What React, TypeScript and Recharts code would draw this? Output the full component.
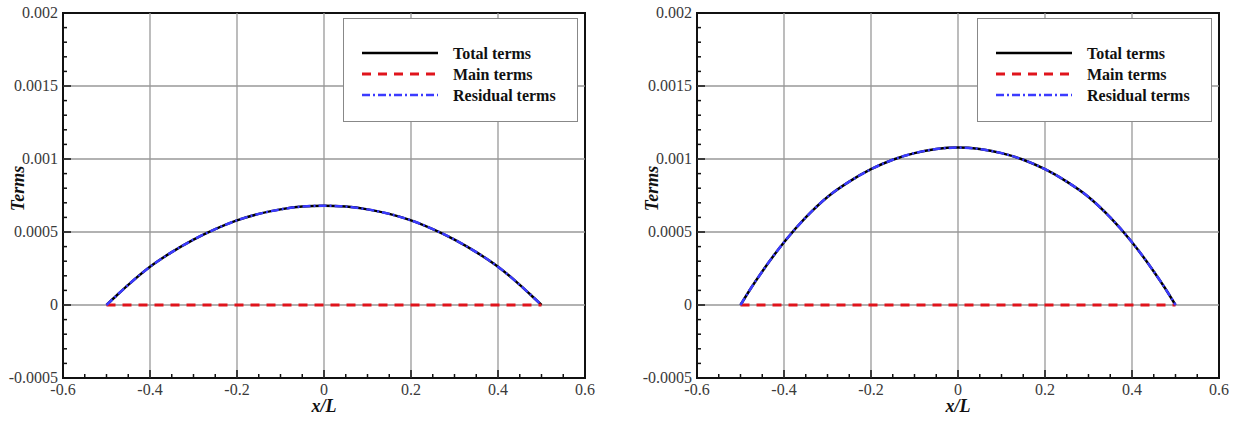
import {
  LineChart,
  Line,
  XAxis,
  YAxis,
  ReferenceLine,
  ReferenceArea,
  Legend,
} from 'recharts';

// x/L positions where the curves were read
const xPos = [
  -0.5, -0.475, -0.45, -0.4, -0.35, -0.3, -0.25, -0.2, -0.15, -0.1, -0.05, 0,
  0.05, 0.1, 0.15, 0.2, 0.25, 0.3, 0.35, 0.4, 0.45, 0.475, 0.5,
];

// left panel
const leftTotal = [
  0, 0.00007, 0.000138, 0.000262, 0.000362, 0.000448, 0.00052, 0.00058, 0.000624,
  0.000655, 0.000674, 0.00068, 0.000674, 0.000655, 0.000624, 0.00058, 0.00052,
  0.000448, 0.000362, 0.000262, 0.000138, 0.00007, 0,
];
const leftMain = [0, 0, 0, 0, 0, 0, 0, 0, 0, 0, 0, 0, 0, 0, 0, 0, 0, 0, 0, 0, 0, 0, 0];
const leftResidual = [
  0, 0.00007, 0.000138, 0.000262, 0.000362, 0.000448, 0.00052, 0.00058, 0.000624,
  0.000655, 0.000674, 0.00068, 0.000674, 0.000655, 0.000624, 0.00058, 0.00052,
  0.000448, 0.000362, 0.000262, 0.000138, 0.00007, 0,
];

// right panel
const rightTotal = [
  0, 0.00012, 0.00023, 0.00043, 0.0006, 0.00074, 0.000845, 0.00093, 0.000995,
  0.00104, 0.001068, 0.001078, 0.001068, 0.00104, 0.000995, 0.00093, 0.000845,
  0.00074, 0.0006, 0.00043, 0.00023, 0.00012, 0,
];
const rightMain = [0, 0, 0, 0, 0, 0, 0, 0, 0, 0, 0, 0, 0, 0, 0, 0, 0, 0, 0, 0, 0, 0, 0];
const rightResidual = [
  0, 0.00012, 0.00023, 0.00043, 0.0006, 0.00074, 0.000845, 0.00093, 0.000995,
  0.00104, 0.001068, 0.001078, 0.001068, 0.00104, 0.000995, 0.00093, 0.000845,
  0.00074, 0.0006, 0.00043, 0.00023, 0.00012, 0,
];

const xTicks = [
  -0.6, -0.55, -0.5, -0.45, -0.4, -0.35, -0.3, -0.25, -0.2, -0.15, -0.1, -0.05, 0,
  0.05, 0.1, 0.15, 0.2, 0.25, 0.3, 0.35, 0.4, 0.45, 0.5, 0.55, 0.6,
];
const xLabelTicks = [-0.6, -0.4, -0.2, 0, 0.2, 0.4, 0.6];
const yTicks = [
  -0.0005, -0.0004, -0.0003, -0.0002, -0.0001, 0, 0.0001, 0.0002, 0.0003, 0.0004,
  0.0005, 0.0006, 0.0007, 0.0008, 0.0009, 0.001, 0.0011, 0.0012, 0.0013, 0.0014,
  0.0015, 0.0016, 0.0017, 0.0018, 0.0019, 0.002,
];
const yLabelTicks = [-0.0005, 0, 0.0005, 0.001, 0.0015, 0.002];

const seriesNames = ['Total terms', 'Main terms', 'Residual terms'];

const FONT = 'Liberation Serif, Times New Roman, serif';
const isMajor = (v: number, list: number[]) => list.some((t) => Math.abs(t - v) < 1e-9);

function XTick({ x, y, payload }: any) {
  const major = isMajor(payload.value, xLabelTicks);
  return (
    <g>
      <line x1={x} x2={x} y1={y} y2={y - (major ? 8 : 4)} stroke="#111" strokeWidth={1.5} />
      {major && (
        <text x={x} y={y + 17} textAnchor="middle" fontSize={16} fill="#3a3a3a" fontFamily={FONT}>
          {payload.value}
        </text>
      )}
    </g>
  );
}

function YTick({ x, y, payload }: any) {
  const major = isMajor(payload.value, yLabelTicks);
  return (
    <g>
      <line x1={x} x2={x + (major ? 8 : 4)} y1={y} y2={y} stroke="#111" strokeWidth={1.5} />
      {major && (
        <text x={x - 5} y={y + 4.5} textAnchor="end" fontSize={16} fill="#3a3a3a" fontFamily={FONT}>
          {payload.value}
        </text>
      )}
    </g>
  );
}

const YLabel = ({ viewBox }: any) => {
  const cx = viewBox.x + 18;
  const cy = viewBox.y + viewBox.height / 2 - 7;
  return (
    <text
      x={cx}
      y={cy}
      transform={`rotate(-90 ${cx} ${cy})`}
      textAnchor="middle"
      dominantBaseline="central"
      fontSize={18}
      fontWeight="bold"
      fontStyle="italic"
      fontFamily={FONT}
      fill="#111"
    >
      Terms
    </text>
  );
};

const XLabel = ({ viewBox }: any) => (
  <text
    x={viewBox.x + viewBox.width / 2}
    y={viewBox.y + 34}
    textAnchor="middle"
    fontSize={18}
    fontWeight="bold"
    fontStyle="italic"
    fontFamily={FONT}
    fill="#111"
  >
    x/L
  </text>
);

function LegendBox() {
  const rows = [
    { stroke: '#000', dash: undefined, width: 2.5 },
    { stroke: '#e0141c', dash: '9 7', width: 3 },
    { stroke: '#3b3bff', dash: '8 3 2 3', width: 2.5 },
  ];
  return (
    <div
      style={{
        width: 235,
        height: 104,
        boxSizing: 'border-box',
        border: '1.5px solid #888',
        background: '#fff',
      }}
    >
      <svg width={232} height={101}>
        {rows.map((r, i) => (
          <g key={seriesNames[i]}>
            <line
              x1={18}
              x2={94}
              y1={34 + i * 21}
              y2={34 + i * 21}
              stroke={r.stroke}
              strokeWidth={r.width}
              strokeDasharray={r.dash}
            />
            <text
              x={109}
              y={39.5 + i * 21}
              fontSize={16}
              fontWeight="bold"
              fontFamily={FONT}
              fill="#111"
            >
              {seriesNames[i]}
            </text>
          </g>
        ))}
      </svg>
    </div>
  );
}

function Panel({ total, main, residual }: { total: number[]; main: number[]; residual: number[] }) {
  const data = xPos.map((x, i) => ({ x, total: total[i], main: main[i], residual: residual[i] }));
  return (
    <LineChart width={600} height={421} data={data} margin={{ top: 13, right: 15, left: 0, bottom: 0 }}>
      {xLabelTicks.slice(1, -1).map((v) => (
        <ReferenceLine key={'vx' + v} x={v} stroke="#999" strokeWidth={1.3} />
      ))}
      {yLabelTicks.slice(1, -1).map((v) => (
        <ReferenceLine key={'hy' + v} y={v} stroke="#999" strokeWidth={1.3} />
      ))}
      <XAxis
        type="number"
        dataKey="x"
        domain={[-0.6, 0.6]}
        ticks={xTicks}
        interval={0}
        tickSize={0}
        tickMargin={0}
        tickLine={false}
        axisLine={false}
        tick={<XTick />}
        height={43}
        allowDataOverflow
        label={XLabel}
      />
      <YAxis
        type="number"
        domain={[-0.0005, 0.002]}
        ticks={yTicks}
        interval={0}
        tickSize={0}
        tickMargin={0}
        tickLine={false}
        axisLine={false}
        tick={<YTick />}
        width={63}
        allowDataOverflow
        label={YLabel}
      />
      <ReferenceArea
        x1={-0.6}
        x2={0.6}
        y1={-0.0005}
        y2={0.002}
        fill="none"
        fillOpacity={0}
        stroke="#111"
        strokeWidth={2}
        ifOverflow="visible"
      />
      <Line
        type="monotone"
        dataKey="total"
        name={seriesNames[0]}
        stroke="#000"
        strokeWidth={2.5}
        dot={false}
        isAnimationActive={false}
      />
      <Line
        type="linear"
        dataKey="main"
        name={seriesNames[1]}
        stroke="#e0141c"
        strokeWidth={3}
        strokeDasharray="9 7"
        dot={false}
        isAnimationActive={false}
      />
      <Line
        type="monotone"
        dataKey="residual"
        name={seriesNames[2]}
        stroke="#3b3bff"
        strokeWidth={2.5}
        strokeDasharray="8 3 2 3"
        dot={false}
        isAnimationActive={false}
      />
      <Legend
        layout="vertical"
        align="center"
        verticalAlign="middle"
        wrapperStyle={{ position: 'absolute', left: 343, top: 18, width: 235, height: 104 }}
        content={() => <LegendBox />}
      />
    </LineChart>
  );
}

export default function App() {
  return (
    <div style={{ position: 'absolute', left: 0, top: 0, width: 1240, height: 421, background: '#fff', overflow: 'hidden' }}>
      <div style={{ position: 'absolute', left: 0, top: 0 }}>
        <Panel total={leftTotal} main={leftMain} residual={leftResidual} />
      </div>
      <div style={{ position: 'absolute', left: 634, top: 0 }}>
        <Panel total={rightTotal} main={rightMain} residual={rightResidual} />
      </div>
    </div>
  );
}
